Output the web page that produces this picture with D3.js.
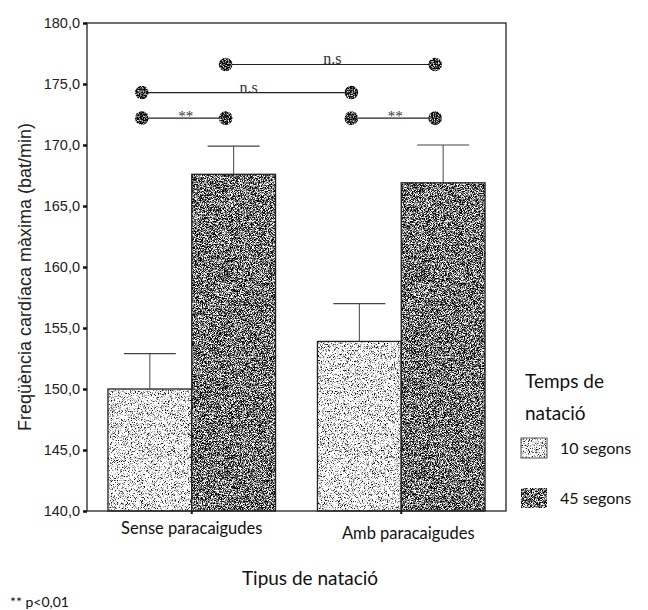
<!DOCTYPE html>
<html>
<head>
<meta charset="utf-8">
<script src="https://cdn.jsdelivr.net/npm/d3@7"></script>
<style>
  body { margin: 0; background: #fff; }
  svg { display: block; }
  .tick-lbl { font-family: 'Liberation Sans', Arial, sans-serif; font-size: 14.5px; fill: #222; }
  .gill { font-family: Lato, 'Open Sans', sans-serif; fill: #111; }
</style>
</head>
<body>
<div id="chart"></div>
<script>
//Datos del gráfico
const categories = ['Sense paracaigudes', 'Amb paracaigudes'];
const series = ['10 segons', '45 segons'];
const means10 = [150.0, 153.9];
const means45 = [167.6, 166.9];
const err10 = [2.9, 3.1];
const err45 = [2.3, 3.1];
const yTicks = [140, 145, 150, 155, 160, 165, 170, 175, 180];
//Comparaciones: [categoria, serie] -> [categoria, serie]
const compFrom = [['Sense paracaigudes', '10 segons'], ['Amb paracaigudes', '10 segons'], ['Sense paracaigudes', '10 segons'], ['Sense paracaigudes', '45 segons']];
const compTo = [['Sense paracaigudes', '45 segons'], ['Amb paracaigudes', '45 segons'], ['Amb paracaigudes', '10 segons'], ['Amb paracaigudes', '45 segons']];
const compLevel = [172.2, 172.2, 174.3, 176.6];
const compLabel = ['**', '**', 'n.s', 'n.s'];

const W = 648, H = 610;
const margin = {top: 23, right: 142, bottom: 99, left: 87};
const width = W - margin.left - margin.right,
      height = H - margin.top - margin.bottom;

let svg = d3.select('#chart').append('svg')
    .attr('width', W)
    .attr('height', H);

//Texturas tipo fotocopia
let defs = svg.append('defs');
function speckle(id, gain, offset, seed, freq) {
    let f = defs.append('filter').attr('id', id)
        .attr('x', 0).attr('y', 0).attr('width', 1).attr('height', 1)
        .attr('color-interpolation-filters', 'sRGB');
    f.append('feTurbulence').attr('type', 'fractalNoise')
        .attr('baseFrequency', freq).attr('numOctaves', 2).attr('seed', seed).attr('result', 'n');
    f.append('feColorMatrix').attr('in', 'n').attr('type', 'matrix')
        .attr('values', [gain,0,0,0,offset, gain,0,0,0,offset, gain,0,0,0,offset, 0,0,0,0,1].join(' '))
        .attr('result', 'g');
    f.append('feComposite').attr('in', 'g').attr('in2', 'SourceGraphic').attr('operator', 'in');
}
speckle('texLight', 4, -0.95, 2, 1.3);
speckle('texDark', 4, -1.55, 7, 1.3);
speckle('texDot', 3, -1.3, 5, 0.8);

let chart = svg.append('g')
    .attr('transform', 'translate(' + margin.left + ',' + margin.top + ')');

let x0 = d3.scaleBand().domain(categories).range([0, width]).paddingInner(0.2).paddingOuter(0.1);
let x1 = d3.scaleBand().domain(series).range([0, x0.bandwidth()]);
let y = d3.scaleLinear().domain([140, 180]).range([height, 0]);

let fmt = d3.formatLocale({decimal: ',', thousands: '.', grouping: [3], currency: ['', '€']}).format('.1f');

//Datos en formato largo
let bars = [];
categories.forEach(function(c, i) {
    bars.push({cat: c, serie: series[0], value: means10[i], err: err10[i]});
    bars.push({cat: c, serie: series[1], value: means45[i], err: err45[i]});
});

//Barras
let barG = chart.append('g').selectAll('g')
    .data(bars)
    .enter()
    .append('g');

barG.append('rect')
    .attr('x', function(d) { return x0(d.cat) + x1(d.serie); })
    .attr('y', function(d) { return y(d.value); })
    .attr('width', x1.bandwidth())
    .attr('height', function(d) { return height - y(d.value); })
    .attr('fill', '#000')
    .attr('filter', function(d) { return d.serie == series[0] ? 'url(#texLight)' : 'url(#texDark)'; });

barG.append('rect')
    .attr('x', function(d) { return x0(d.cat) + x1(d.serie); })
    .attr('y', function(d) { return y(d.value); })
    .attr('width', x1.bandwidth())
    .attr('height', function(d) { return height - y(d.value); })
    .attr('fill', 'none')
    .attr('stroke', '#222')
    .attr('stroke-width', 1.3);

//Barras de error (solo superior)
barG.append('line')
    .attr('x1', function(d) { return x0(d.cat) + x1(d.serie) + x1.bandwidth() / 2; })
    .attr('x2', function(d) { return x0(d.cat) + x1(d.serie) + x1.bandwidth() / 2; })
    .attr('y1', function(d) { return y(d.value); })
    .attr('y2', function(d) { return y(d.value + d.err); })
    .attr('stroke', '#444').attr('stroke-width', 1);

barG.append('line')
    .attr('x1', function(d) { return x0(d.cat) + x1(d.serie) + x1.bandwidth() / 2 - 26; })
    .attr('x2', function(d) { return x0(d.cat) + x1(d.serie) + x1.bandwidth() / 2 + 26; })
    .attr('y1', function(d) { return y(d.value + d.err); })
    .attr('y2', function(d) { return y(d.value + d.err); })
    .attr('stroke', '#444').attr('stroke-width', 1.2);

//Marco
chart.append('rect')
    .attr('x', 0).attr('y', 0)
    .attr('width', width).attr('height', height)
    .attr('fill', 'none')
    .attr('stroke', '#222').attr('stroke-width', 1.3);

//Eje Y
let yAxis = d3.axisLeft(y).tickValues(yTicks).tickSize(4).tickPadding(3).tickFormat(fmt);
let gy = chart.append('g').call(yAxis);
gy.select('.domain').remove();
gy.selectAll('.tick line').attr('stroke', '#111').attr('stroke-width', 2.5);
gy.selectAll('.tick text').attr('class', 'tick-lbl').attr('font-family', null).attr('font-size', null);

//Eje X
let xAxis = d3.axisBottom(x0).tickSize(3).tickPadding(10);
let gx = chart.append('g').attr('transform', 'translate(0,' + height + ')').call(xAxis);
gx.select('.domain').remove();
gx.selectAll('.tick line').attr('stroke', '#111').attr('stroke-width', 2);
gx.selectAll('.tick text')
    .attr('class', 'gill')
    .attr('font-family', null)
    .attr('font-size', '16.5px')
    .attr('dx', function(d, i) { return i == 0 ? 0 : 7; })
    .attr('dy', function(d, i) { return i == 0 ? '0.6em' : '0.9em'; });

//Comparaciones
function cx(p) { return x0(p[0]) + x1(p[1]) + x1.bandwidth() / 2 - 8; }
let comp = chart.append('g').selectAll('g')
    .data(compLabel)
    .enter()
    .append('g');

comp.append('line')
    .attr('x1', function(d, i) { return cx(compFrom[i]); })
    .attr('x2', function(d, i) { return cx(compTo[i]); })
    .attr('y1', function(d, i) { return y(compLevel[i]); })
    .attr('y2', function(d, i) { return y(compLevel[i]); })
    .attr('stroke', '#222').attr('stroke-width', 1.2);

comp.selectAll('circle')
    .data(function(d, i) { return [compFrom[i], compTo[i]].map(function(p) { return {p: p, lvl: compLevel[i]}; }); })
    .enter()
    .append('circle')
    .attr('cx', function(d) { return cx(d.p); })
    .attr('cy', function(d) { return y(d.lvl); })
    .attr('r', 6.8)
    .attr('fill', '#111')
    .attr('filter', 'url(#texDot)');

comp.append('text')
    .attr('x', function(d, i) { return (cx(compFrom[i]) + cx(compTo[i])) / 2 + 2; })
    .attr('y', function(d, i) { return y(compLevel[i]) + (d == '**' ? 3 : 0); })
    .attr('text-anchor', 'middle')
    .attr('font-family', "'Liberation Serif', serif")
    .attr('font-size', function(d) { return d == '**' ? '15px' : '16px'; })
    .attr('fill', '#333')
    .text(function(d) { return d; });

//Títulos de ejes
svg.append('text')
    .attr('transform', 'translate(31,277) rotate(-90)')
    .attr('text-anchor', 'middle')
    .attr('font-family', "'Liberation Sans', Arial, sans-serif")
    .attr('font-size', '18px')
    .attr('fill', '#222')
    .text('Freqüència cardíaca màxima (bat/min)');

svg.append('text')
    .attr('class', 'gill')
    .attr('x', 310).attr('y', 585)
    .attr('text-anchor', 'middle')
    .attr('font-size', '19px')
    .text('Tipus de natació');

svg.append('text')
    .attr('class', 'gill')
    .attr('x', 10).attr('y', 607)
    .attr('font-size', '14px')
    .text('** p<0,01');

//Leyenda
let legend = svg.append('g').attr('transform', 'translate(521,0)');
legend.append('text').attr('class', 'gill').attr('x', 4).attr('y', 388).attr('font-size', '19px').text('Temps de');
legend.append('text').attr('class', 'gill').attr('x', 4).attr('y', 420).attr('font-size', '19px').text('natació');

let li = legend.selectAll('g.li')
    .data(series)
    .enter()
    .append('g')
    .attr('class', 'li')
    .attr('transform', function(d, i) { return 'translate(0,' + (438 + i * 50) + ')'; });

li.append('rect')
    .attr('width', 26).attr('height', 20)
    .attr('fill', '#000')
    .attr('filter', function(d, i) { return i == 0 ? 'url(#texLight)' : 'url(#texDark)'; });
li.append('rect')
    .attr('width', 26).attr('height', 20)
    .attr('fill', 'none')
    .attr('stroke', function(d, i) { return i == 0 ? '#555' : 'none'; });
li.append('text')
    .attr('class', 'gill')
    .attr('x', 39).attr('y', 16)
    .attr('font-size', '16px')
    .text(function(d) { return d; });
</script>
</body>
</html>
